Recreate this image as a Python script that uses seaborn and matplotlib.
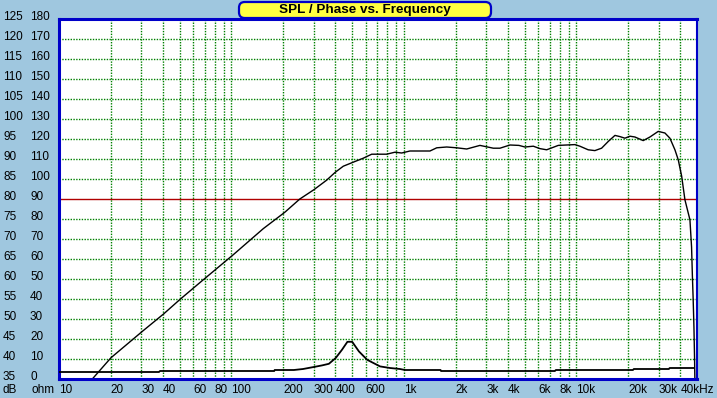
import numpy as np
import pandas as pd
import matplotlib
matplotlib.use('Agg')
import matplotlib.pyplot as plt
import matplotlib.transforms as mtransforms
from matplotlib.patches import FancyBboxPatch
import seaborn as sns

# SPL curve (Hz, dB)
spl_freq = [15.6, 20, 30.6, 40.5, 50.3, 65.6, 102.6, 153, 204, 249, 300, 356, 400, 445,
            508, 581, 650, 794, 887, 970, 1083, 1415, 1549, 1770, 2022, 2311, 2758, 3296,
            3602, 4117, 4640, 5029, 5623, 6138, 6719, 7845, 9795, 10470, 11700, 12790,
            13990, 15300, 16720, 17870, 19100, 20430, 21830, 24390, 26670, 29790, 32580,
            34830, 37240, 38930, 40740, 42560, 44480, 45500, 46500, 47000, 47500, 48000,
            48400, 48600]
spl_db = [35, 40.3, 47.0, 51.3, 54.9, 59.1, 66.1, 72.6, 76.7, 80, 82.3, 84.7, 86.7, 88.2,
          89.2, 90.2, 91.2, 91.2, 91.7, 91.5, 92, 92, 92.8, 93, 92.8, 92.5, 93.4, 92.7,
          92.7, 93.5, 93.4, 93, 93.2, 92.6, 92.3, 93.4, 93.6, 93.2, 92.3, 92.1,
          92.7, 94.4, 95.9, 95.6, 95.2, 95.7, 95.5, 94.6, 95.5, 96.9, 96.5,
          95.2, 92.3, 89.8, 85.7, 79.8, 76.5, 74.8, 68, 61, 55, 48,
          40, 35]

# impedance curve (Hz, ohm)
imp_freq = [10, 38, 38.5, 177, 178, 230, 260, 300, 335, 367, 402, 437, 470, 501, 548, 612,
            697, 726, 830, 948, 1014, 1630, 1640, 7500, 7600, 21270, 21500, 34360, 34700, 48000]
imp_ohm = [3.5, 3.5, 4.0, 4.0, 4.5, 4.5, 5.0, 6.0, 6.8, 7.6, 10.5, 14.6, 18.6, 18.6, 13.8, 9.6,
           7.1, 6.3, 5.5, 5.0, 4.5, 4.5, 4.0, 4.0, 4.5, 4.5, 5.0, 5.0, 5.5, 5.5]

db_ticks = list(range(35, 126, 5))
ohm_ticks = list(range(0, 181, 10))
x_ticks = [10, 20, 30, 40, 60, 80, 100, 200, 300, 400, 600, 1000, 2000, 3000, 4000,
           6000, 8000, 10000, 20000, 30000, 40000]
x_labels = ['10', '20', '30', '40', '60', '80', '100', '200', '300', '400', '600', '1k',
            '2k', '3k', '4k', '6k', '8k', '10k', '20k', '30k', '40kHz']

spl = pd.DataFrame({'freq': spl_freq, 'db': spl_db})
imp = pd.DataFrame({'freq': imp_freq, 'ohm': imp_ohm})

bg = '#9FC7DF'
blue = '#0000C8'
green = '#008000'

plt.rcParams['font.family'] = ['Liberation Sans', 'DejaVu Sans']

fig = plt.figure(figsize=(7.17, 3.98), dpi=100, facecolor=bg)
W, H = 717, 398
ax = fig.add_axes([59 / W, (H - 379) / H, 638 / W, 360 / H])
ax.set_facecolor('white')
ax.set_xscale('log')
ax.set_xlim(10, 50000)
ax.set_ylim(35, 125)

# grid (dotted, green)
minor = [m * 10 ** e for e in range(1, 5) for m in range(1, 10)]
vlines = [f for f in minor if 10 < f < 50000]
hlines = [d for d in db_ticks[1:] if d != 80]
ax.vlines(vlines, 35, 125, colors=green, linewidths=1.0, linestyles=(0, (1, 1)), zorder=1)
ax.hlines(hlines, 10, 50000, colors=green, linewidths=1.0, linestyles=(0, (1, 1)), zorder=1)
ax.axhline(80, color='#B00000', lw=1.0, zorder=1.5)

sns.lineplot(data=spl, x='freq', y='db', ax=ax, color='black', lw=1.0,
             sort=False, estimator=None, zorder=3)

ax2 = ax.twinx()
ax2.set_ylim(0, 180)
sns.lineplot(data=imp, x='freq', y='ohm', ax=ax2, color='black', lw=1.3,
             sort=False, estimator=None, zorder=3)
ax2.set_xlim(10, 50000)
for a in (ax, ax2):
    a.set_xticks([])
    a.set_yticks([])
    a.set_xticks([], minor=True)
    a.set_yticks([], minor=True)
    a.set_xlabel('')
    a.set_ylabel('')
ax2.patch.set_visible(False)
for s in ax2.spines.values():
    s.set_visible(False)
for name, s in ax.spines.items():
    s.set_color(blue)
    s.set_linewidth(1.5 if name == 'right' else 2.2)
    s.set_zorder(5)

# y labels, two columns
up = mtransforms.ScaledTranslation(0, 2.5 / 100, fig.dpi_scale_trans)
ytr = mtransforms.blended_transform_factory(ax.transAxes, ax.transData) + up
for d, o in zip(db_ticks, ohm_ticks):
    ax.text((3 - 59) / 638, d, str(d), transform=ytr, ha='left', va='center', fontsize=8.5)
    ax.text((30 - 59) / 638, d, str(o), transform=ytr, ha='left', va='center', fontsize=8.5)

# x labels
xtr = mtransforms.blended_transform_factory(ax.transData, ax.transAxes)
for f, lab in zip(x_ticks, x_labels):
    ax.text(f, -11 / 360, lab, transform=xtr, ha='left', va='center', fontsize=8.5)
fig.text(3 / W, 1 - 390 / H, 'dB', ha='left', va='center', fontsize=8.5)
fig.text(31 / W, 1 - 390 / H, 'ohm', ha='left', va='center', fontsize=8.5)

# title box
box = FancyBboxPatch((239 / W, 1 - 18 / H), 252 / W, 16 / H,
                     boxstyle='round,pad=0,rounding_size=0.008',
                     transform=fig.transFigure, facecolor='#FFFF40',
                     edgecolor=blue, lw=1.6, zorder=10, mutation_aspect=W / H)
fig.patches.append(box)
fig.text(365 / W, 1 - 10 / H, 'SPL / Phase vs. Frequency', ha='center', va='center',
         fontsize=9.7, fontweight='bold', zorder=11)

fig.savefig('out.png', dpi=100, facecolor=bg)
